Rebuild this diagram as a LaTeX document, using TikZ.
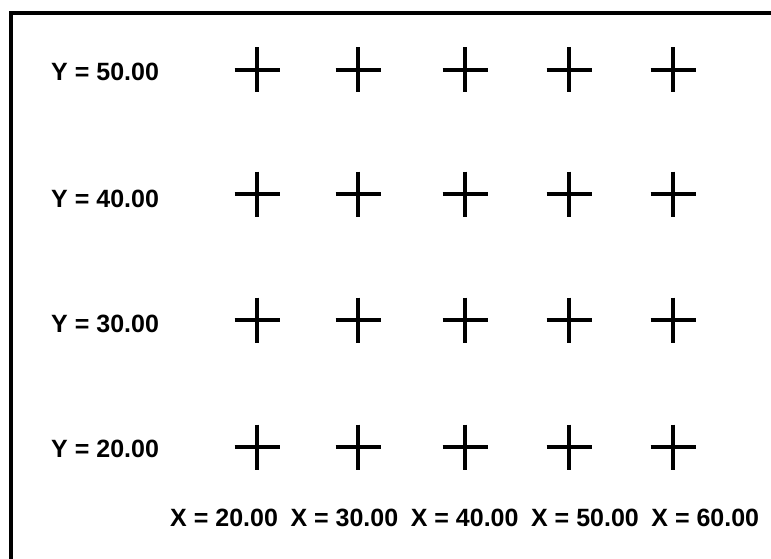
\documentclass[tikz,border=0pt]{standalone}
\usepackage{fontspec}
\setmainfont{Liberation Sans}
\usepackage{tikz}

\begin{document}
\begin{tikzpicture}[x=1pt,y=-1pt,
  lbl/.style={font=\bfseries\fontsize{25}{30}\selectfont,inner sep=0pt,anchor=base west},
  crossline/.style={line width=3.3pt},
]
\useasboundingbox (0,0) rectangle (771,559);
% frame, left and top only
\draw[line width=4pt] (11,559) |- (771,13);
% grid of crosses
\foreach \cx in {257,358,465,569,673}
  \foreach \cy in {70,194,320,447}
    \draw[crossline] (\cx-22.5,\cy) -- (\cx+22.5,\cy) (\cx,\cy-22.5) -- (\cx,\cy+22.5);
% row labels
\foreach \v/\by in {50/81,40/207,30/332,20/457}
  \node[lbl] (y\v) at (51,\by) {Y = \v.00};
% column labels
\foreach \v [count=\i from 0] in {20,30,40,50,60}
  \node[lbl] (x\v) at (170+120.3*\i,526) {X = \v.00};
\end{tikzpicture}
\end{document}
